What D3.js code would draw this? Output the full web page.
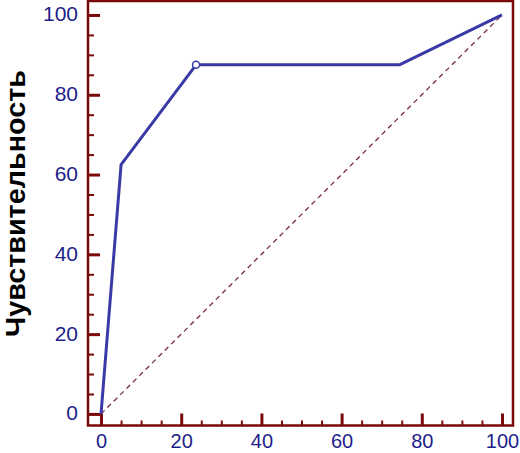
<!DOCTYPE html>
<html>
<head>
<meta charset="utf-8">
<script src="https://cdn.jsdelivr.net/npm/d3@7"></script>
<style>
  html, body { margin: 0; padding: 0; background: #fff; }
  svg { display: block; }
</style>
</head>
<body>
<svg id="chart" width="520" height="453"></svg>
<script>
// ---- data ----
const rocX = [0, 5, 23.7, 74.4, 100];      // 100 - specificity
const rocY = [0, 62.5, 87.5, 87.5, 100];   // sensitivity
const markerX = [23.7];
const markerY = [87.5];
const diagX = [0, 100];
const diagY = [0, 100];
const xTicks = [0, 20, 40, 60, 80, 100];
const yTicks = [0, 20, 40, 60, 80, 100];
const minorTicks = d3.range(0, 101, 5);
const yTitle = "Чувствительность";

// ---- layout ----
const svg = d3.select("#chart");
const mLeft = 88, mRight = 513, mTop = 1, mBottom = 425.5;
const x = d3.scaleLinear().domain([-3.25, 102.75]).range([mLeft, mRight]);
const y = d3.scaleLinear().domain([-2.9, 103.5]).range([mBottom, mTop]);

const axisColor = "#7a0a0a";
const labelColor = "#1e1e8a";
const lineColor = "#3a3aa6";
const fontFam = "'Liberation Sans Narrow', 'Arial Narrow', 'Liberation Sans', Arial, sans-serif";

// diagonal reference line
svg.append("path")
  .datum(diagX.map((d, i) => [d, diagY[i]]))
  .attr("d", d3.line().x(d => x(d[0])).y(d => y(d[1])))
  .attr("fill", "none")
  .attr("stroke", "#7a2a4a")
  .attr("stroke-width", 1.3)
  .attr("stroke-dasharray", "5,4");

// minor ticks
const yMinor = d3.axisLeft(y).tickValues(minorTicks.filter(v => v % 20 !== 0)).tickSize(-6).tickFormat("");
const xMinor = d3.axisBottom(x).tickValues(minorTicks.filter(v => v % 20 !== 0)).tickSize(-5).tickFormat("");
const gyMin = svg.append("g").attr("transform", `translate(${mLeft},0)`).call(yMinor);
const gxMin = svg.append("g").attr("transform", `translate(0,${mBottom})`).call(xMinor);
[gyMin, gxMin].forEach(g => {
  g.select(".domain").remove();
  g.selectAll(".tick line").attr("stroke", axisColor).attr("stroke-width", 2);
});

// major ticks + labels
const yAxis = d3.axisLeft(y).tickValues(yTicks).tickSize(-12).tickPadding(10).tickFormat(d3.format("d"));
const xAxis = d3.axisBottom(x).tickValues(xTicks).tickSize(-12).tickPadding(8).tickFormat(d3.format("d"));
const gy = svg.append("g").attr("transform", `translate(${mLeft},0)`).call(yAxis);
const gx = svg.append("g").attr("transform", `translate(0,${mBottom})`).call(xAxis);
[gy, gx].forEach(g => {
  g.select(".domain").remove();
  g.selectAll(".tick line").attr("stroke", axisColor).attr("stroke-width", 3);
  g.selectAll(".tick text")
    .attr("fill", labelColor)
    .attr("font-family", fontFam);
});
gy.selectAll(".tick text").attr("font-size", 21).attr("dy", "0.28em");
gx.selectAll(".tick text").attr("font-size", 20).attr("dy", "0.72em");

// frame
svg.append("rect")
  .attr("x", mLeft).attr("y", mTop)
  .attr("width", mRight - mLeft).attr("height", mBottom - mTop)
  .attr("fill", "none")
  .attr("stroke", axisColor)
  .attr("stroke-width", 2.5);

// ROC line
svg.append("path")
  .datum(rocX.map((d, i) => [d, rocY[i]]))
  .attr("d", d3.line().x(d => x(d[0])).y(d => y(d[1])))
  .attr("fill", "none")
  .attr("stroke", lineColor)
  .attr("stroke-width", 3)
  .attr("stroke-linejoin", "round");

// marker
svg.selectAll("circle.mk")
  .data(markerX.map((d, i) => [d, markerY[i]]))
  .enter().append("circle")
  .attr("class", "mk")
  .attr("cx", d => x(d[0])).attr("cy", d => y(d[1]))
  .attr("r", 3.5)
  .attr("fill", "#fff")
  .attr("stroke", lineColor)
  .attr("stroke-width", 1.5);

// y title
svg.append("text")
  .attr("transform", `translate(25,203.5) rotate(-90)`)
  .attr("text-anchor", "middle")
  .attr("font-family", "'Liberation Sans', Arial, sans-serif")
  .attr("font-weight", "bold")
  .attr("font-size", 27)
  .attr("textLength", 267)
  .attr("lengthAdjust", "spacingAndGlyphs")
  .attr("fill", "#000")
  .text(yTitle);
</script>
</body>
</html>
